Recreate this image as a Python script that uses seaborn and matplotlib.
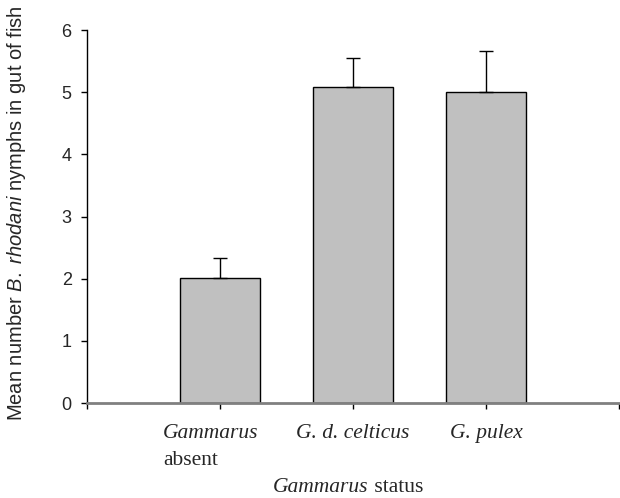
import matplotlib
matplotlib.use("Agg")
import matplotlib.pyplot as plt
import seaborn as sns
import numpy as np
import pandas as pd
from matplotlib.transforms import ScaledTranslation

categories = ["Gammarus absent", "G. d. celticus", "G. pulex"]
tick_labels = ["Gammarus", "G. d. celticus", "G. pulex"]
means = [2.01, 5.09, 5.00]
se_upper = [0.32, 0.46, 0.67]
y_ticks = [0, 1, 2, 3, 4, 5, 6]

sns.set_theme(style="white")
plt.rcParams["font.family"] = ["Liberation Sans", "DejaVu Sans"]
plt.rcParams["mathtext.fontset"] = "custom"
plt.rcParams["mathtext.rm"] = "Liberation Sans"
plt.rcParams["mathtext.it"] = "Liberation Sans:italic"

df = pd.DataFrame({"status": categories, "mean": means})

fig = plt.figure(figsize=(6.2, 4.98), dpi=100)
ax = fig.add_axes([87 / 620, 1 - 403 / 498, (619 - 87) / 620, (403 - 30) / 498])

sns.barplot(data=df, x="status", y="mean", color="#c0c0c0", edgecolor="black",
            linewidth=1.0, width=0.6, errorbar=None, saturation=1, ax=ax)
pos = np.arange(len(categories))
ax.errorbar(pos, means, yerr=[np.zeros(len(se_upper)), se_upper], fmt="none",
            ecolor="black", elinewidth=1.0, capsize=5, capthick=1.0, zorder=3)

ax.set_xlim(-1, len(categories))
ax.set_ylim(0, 6)
ax.set_yticks(y_ticks)
ax.set_yticklabels([str(v) for v in y_ticks], fontsize=13)
ax.set_xticks(list(pos))
ax.set_xticklabels(tick_labels, fontfamily="Liberation Serif", fontstyle="italic", fontsize=15.5)
ax.set_xticks([-1, len(categories)], minor=True)

for s in ["top", "right"]:
    ax.spines[s].set_visible(False)
ax.spines["left"].set_color("black")
ax.spines["left"].set_linewidth(1.0)
ax.spines["bottom"].set_color("#808080")
ax.spines["bottom"].set_linewidth(2.0)
ax.tick_params(axis="y", direction="out", length=4, width=1, color="black", pad=7, left=True)
ax.tick_params(axis="x", which="both", direction="out", length=4, width=1, color="black",
               pad=11, bottom=True)

ax.set_xlabel("")
ax.set_ylabel("Mean number $\\mathit{B.\\ rhodani}$ nymphs in gut of fish", fontsize=14.5)
ax.yaxis.set_label_coords(-(87 - 28) / (619 - 87), 0.51)

# shift first tick label so the two-line label block is left aligned
first = ax.get_xticklabels()[0]
first.set_transform(first.get_transform() + ScaledTranslation(-9 / 100, 0, fig.dpi_scale_trans))

fig.canvas.draw()
r = fig.canvas.get_renderer()
bb = first.get_window_extent(r)
fig.text(bb.x0 / 620, 1 - 460 / 498, "absent", ha="left", va="center",
         fontfamily="Liberation Serif", fontsize=15.5)

t1 = fig.text(0.5, 1 - 487 / 498, "Gammarus", fontfamily="Liberation Serif",
              fontstyle="italic", fontsize=15.5, ha="left", va="center")
t2 = ax.annotate(" status", xy=(1, 0), xycoords=t1, ha="left", va="bottom",
                 fontfamily="Liberation Serif", fontsize=15.5, annotation_clip=False)
fig.canvas.draw()
w1 = t1.get_window_extent(r).width
w2 = t2.get_window_extent(r).width
cx = 348
t1.set_x((cx - (w1 + w2) / 2) / 620)

fig.savefig("out.png", dpi=100)
